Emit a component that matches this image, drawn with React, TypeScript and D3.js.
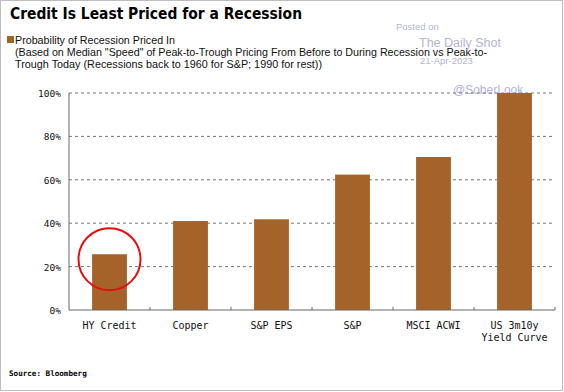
import React from "react";
import * as d3 from "d3";

const categories = ["HY Credit", "Copper", "S&P EPS", "S&P", "MSCI ACWI", "US 3m10y\nYield Curve"];
const values = [25.7, 41, 41.8, 62.4, 70.5, 100];
const yTicks = [0, 20, 40, 60, 80, 100];
const seriesName = "Probability of Recession Priced In";
const noteLines = [
  '(Based on Median "Speed" of Peak-to-Trough Pricing From Before to During Recession vs Peak-to-',
  "Trough Today (Recessions back to 1960 for S&P; 1990 for rest))",
];

const W = 564;
const H = 392;
const M = { left: 69, right: 555, top: 93, bottom: 310 };
const BAR = "#a5632a";

export default function App() {
  const x = d3.scaleBand<string>().domain(categories).range([M.left, M.right]).padding(0);
  const y = d3.scaleLinear().domain([0, 100]).range([M.bottom, M.top]);
  const bw = x.bandwidth() * 0.43;
  const mono = "'DejaVu Sans Mono', monospace";
  const sans = "'Liberation Sans', Arial, sans-serif";
  const hy = categories[0];
  return (
    <svg width={W} height={H} style={{ position: "absolute", left: 0, top: 0, background: "#fff" }}>
      <rect x={0.5} y={0.5} width={W - 2} height={H - 2} fill="#fff" stroke="#bdbdbd" />
      <text x={10} y={19} fontFamily="'DejaVu Sans', sans-serif" fontWeight="bold" fontSize={16} textLength={292} lengthAdjust="spacingAndGlyphs" fill="#000">
        Credit Is Least Priced for a Recession
      </text>
      <rect x={7} y={36} width={7} height={7} fill={BAR} />
      <text x={15} y={44} fontFamily={sans} fontSize={11} textLength={160} lengthAdjust="spacingAndGlyphs" fill="#111">{seriesName}</text>
      <text x={15} y={56} fontFamily={sans} fontSize={11} textLength={472} lengthAdjust="spacingAndGlyphs" fill="#111">{noteLines[0]}</text>
      <text x={15} y={68} fontFamily={sans} fontSize={11} textLength={307} lengthAdjust="spacingAndGlyphs" fill="#111">{noteLines[1]}</text>

      <g fill="#b4b4d4" fontFamily={sans}>
        <text x={396} y={30} fontSize={9.5}>Posted on</text>
        <text x={419} y={47} fontSize={12.5}>The Daily Shot</text>
        <text x={420} y={64} fontSize={9.5}>21-Apr-2023</text>
        <text x={453} y={94} fontSize={12}>@SoberLook</text>
      </g>

      {yTicks.filter((t) => t > 0).map((t) => (
        <line key={t} x1={M.left} x2={M.right} y1={y(t)} y2={y(t)} stroke="#777" strokeDasharray="3,3" strokeWidth={1} />
      ))}
      {categories.map((c, i) => (
        <rect key={c} x={(x(c) as number) + (x.bandwidth() - bw) / 2} y={y(values[i])} width={bw} height={y(0) - y(values[i])} fill={BAR} />
      ))}
      <line x1={M.left} x2={M.left} y1={M.top} y2={M.bottom} stroke="#666" />
      <line x1={M.left} x2={M.right} y1={M.bottom} y2={M.bottom} stroke="#666" />
      {categories.slice(1).map((c) => (
        <line key={c} x1={x(c) as number} x2={x(c) as number} y1={M.bottom} y2={M.bottom - 3} stroke="#666" />
      ))}
      <line x1={M.right} x2={M.right} y1={M.bottom} y2={M.bottom - 3} stroke="#666" />

      {yTicks.map((t) => (
        <text key={t} x={61} y={y(t) + 4} textAnchor="end" fontFamily={mono} fontSize={9.5} fill="#111">{t}%</text>
      ))}
      {categories.map((c) => (
        <text key={c} x={(x(c) as number) + x.bandwidth() / 2} y={329} textAnchor="middle" fontFamily={mono} fontSize={10} fill="#111">
          {c.split("\n").map((l, j) => (
            <tspan key={j} x={(x(c) as number) + x.bandwidth() / 2} dy={j === 0 ? 0 : 12}>{l}</tspan>
          ))}
        </text>
      ))}

      <circle cx={(x(hy) as number) + x.bandwidth() / 2} cy={y(values[0]) + 5} r={31} fill="none" stroke="#e01010" strokeWidth={2} />

      <text x={9} y={376} fontFamily={mono} fontWeight="bold" fontSize={7.6} fill="#000">Source: Bloomberg</text>
    </svg>
  );
}
